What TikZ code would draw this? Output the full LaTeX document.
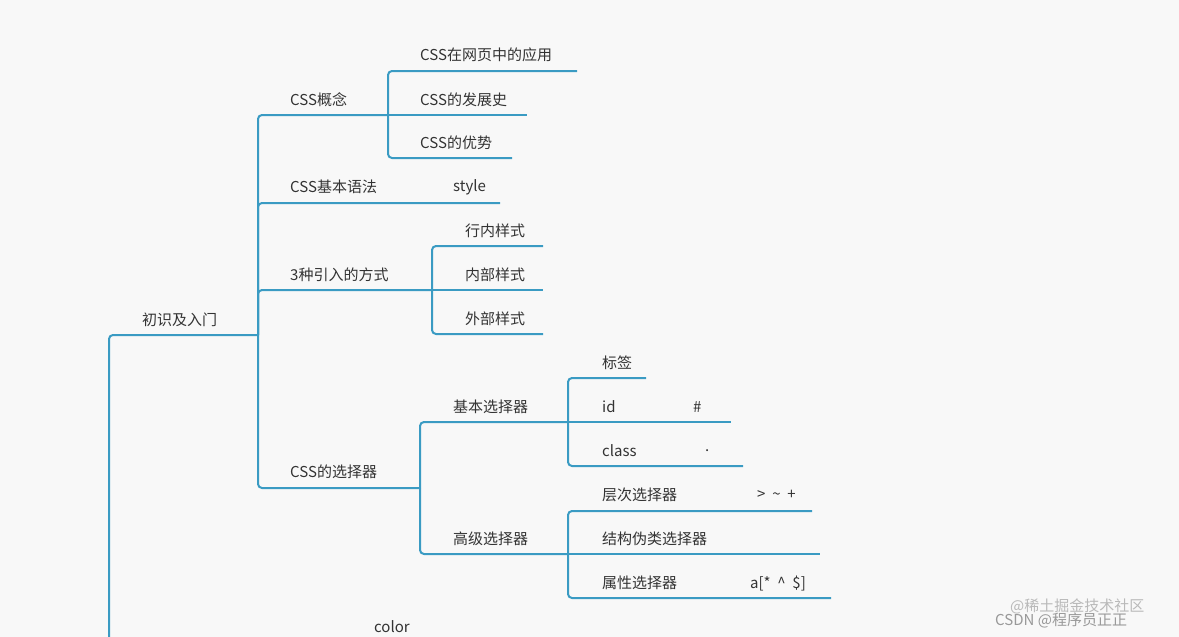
\documentclass[tikz,border=0pt]{standalone}
\usepackage{fontspec}
\setmainfont{Noto Sans CJK SC}
\definecolor{ln}{HTML}{3A9BC3}
\definecolor{bg}{HTML}{F8F8F8}
\definecolor{tx}{HTML}{333333}
\begin{document}
\begin{tikzpicture}[x=1pt,y=-1pt,
  br/.style={draw=ln,line width=2pt,rounded corners=4pt},
  lb/.style={text=tx,font=\fontsize{15}{17}\selectfont,inner sep=0pt,anchor=west}]
\fill[bg] (0,0) rectangle (1179,637);
\useasboundingbox (0,0) rectangle (1179,637);
% root
\coordinate (r) at (109,335);
\draw[br] (109,645) -- (r) -- (258,335);
\node[lb] (t0) at (142,320) {初识及入门};
\node[lb] (tc) at (374,627) {color};
% level 1
\coordinate (j1) at (258,335);
\draw[br] (j1) |- (388,115);
\draw[br] (j1) |- (500,203);
\draw[br] (j1) |- (432,290);
\draw[br] (j1) |- (420,488);
\node[lb] (a1) at (290,100) {CSS概念};
\node[lb] (a2) at (290,187) {CSS基本语法};
\node[lb] (a2b) at (453,187) {style};
\node[lb] (a3) at (290,275) {3种引入的方式};
\node[lb] (a4) at (290,472) {CSS的选择器};
% CSS概念
\coordinate (j2) at (388,115);
\draw[br] (j2) |- (577,71);
\draw[br] (j2) -- (527,115);
\draw[br] (j2) |- (512,158);
\node[lb] (b1) at (420,55) {CSS在网页中的应用};
\node[lb] (b2) at (420,100) {CSS的发展史};
\node[lb] (b3) at (420,143) {CSS的优势};
% 引入
\coordinate (j3) at (432,290);
\draw[br] (j3) |- (543,246);
\draw[br] (j3) -- (543,290);
\draw[br] (j3) |- (543,334);
\node[lb] (c1) at (465,231) {行内样式};
\node[lb] (c2) at (465,275) {内部样式};
\node[lb] (c3) at (465,319) {外部样式};
% 选择器
\coordinate (j4) at (420,488);
\draw[br] (j4) |- (568,422);
\draw[br] (j4) |- (568,554);
\node[lb] (d1) at (453,407) {基本选择器};
\node[lb] (d2) at (453,539) {高级选择器};
\coordinate (j5) at (568,422);
\draw[br] (j5) |- (646,378);
\draw[br] (j5) -- (731,422);
\draw[br] (j5) |- (743,466);
\node[lb] (e1) at (602,363) {标签};
\node[lb] (e2) at (602,407) {id};
\node[lb] (e2b) at (693,407) {\#};
\node[lb] (e3) at (602,451) {class};
\node[lb] (e3b) at (705,451) {.};
\coordinate (j6) at (568,554);
\draw[br] (j6) |- (812,511);
\draw[br] (j6) -- (820,554);
\draw[br] (j6) |- (831,598);
\node[lb] (f1) at (602,495) {层次选择器};
\node[lb] (f1b) at (757,495) {>\ \ \textasciitilde\ \ +};
\node[lb] (f2) at (602,539) {结构伪类选择器};
\node[lb] (f3) at (602,583) {属性选择器};
\node[lb] (f3b) at (750,583) {a[*\ \ \^{}\ \ \$]};
% watermark
\node[lb,text=gray!55] (w1) at (1010,606) {@稀土掘金技术社区};
\node[lb,text=gray!80] (w2) at (995,620) {CSDN @程序员正正};
\end{tikzpicture}
\end{document}
